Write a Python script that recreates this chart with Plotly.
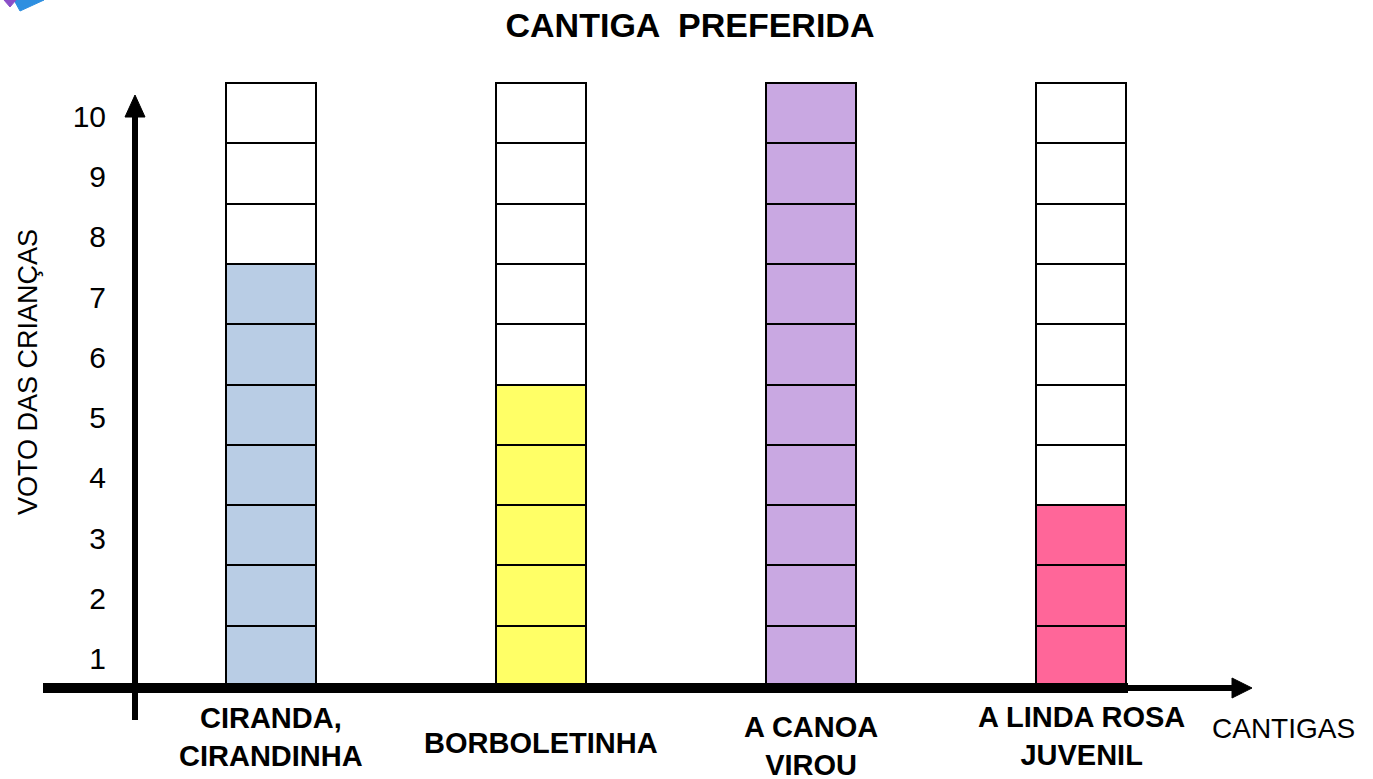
import plotly.graph_objects as go

# ---- data ----
categories = ["CIRANDA, CIRANDINHA", "BORBOLETINHA", "A CANOA VIROU", "A LINDA ROSA JUVENIL"]
category_labels = ["CIRANDA,<br>CIRANDINHA", "BORBOLETINHA", "A CANOA<br>VIROU", "A LINDA ROSA<br>JUVENIL"]
votes = [7, 5, 10, 3]
y_tick_labels = ["1", "2", "3", "4", "5", "6", "7", "8", "9", "10"]
max_votes = 10

# ---- styles ----
colors = ["#B9CDE5", "#FFFF66", "#C9A8E2", "#FF6699"]
label_y_px = [737, 743, 746, 736]  # vertical centre of each category label (pixels)

W, H = 1373, 779
L, R, T, B = 135, 113, 60, 79
PW, PH = W - L - R, H - T - B


def xp(px):
    return (px - L) / PW


def yp(py):
    return (H - B - py) / PH


# data ranges so that category i sits at 271 + 270*i px and y unit = 60.3 px with 0 at 686 px
x0_px, dx_px = 271, 270
y0_px, dy_px = 686, 60.3
x_range = [(L - x0_px) / dx_px, (W - R - x0_px) / dx_px]
y_range = [(y0_px - (H - B)) / dy_px, (y0_px - T) / dy_px]

fig = go.Figure()
for k in range(max_votes):
    fig.add_trace(go.Bar(
        x=list(range(len(categories))),
        y=[1] * len(categories),
        base=[k] * len(categories),
        width=1 / 3,
        marker=dict(
            color=[c if k < v else "white" for c, v in zip(colors, votes)],
            line=dict(color="black", width=2),
        ),
        customdata=categories,
        hovertemplate="%{customdata}<extra></extra>",
        showlegend=False,
    ))

shapes = [
    # y axis
    dict(type="line", xref="paper", yref="paper", x0=xp(135), x1=xp(135), y0=yp(720), y1=yp(112),
         line=dict(color="black", width=6)),
    dict(type="path", xref="paper", yref="paper",
         path=f"M {xp(125)} {yp(117)} L {xp(145)} {yp(117)} L {xp(135)} {yp(95)} Z",
         fillcolor="black", line=dict(color="black", width=1)),
    # x axis
    dict(type="line", xref="paper", yref="paper", x0=xp(43), x1=xp(1128), y0=yp(688), y1=yp(688),
         line=dict(color="black", width=10)),
    dict(type="line", xref="paper", yref="paper", x0=xp(1128), x1=xp(1236), y0=yp(688), y1=yp(688),
         line=dict(color="black", width=6)),
    dict(type="path", xref="paper", yref="paper",
         path=f"M {xp(1232)} {yp(678)} L {xp(1232)} {yp(698)} L {xp(1252)} {yp(688)} Z",
         fillcolor="black", line=dict(color="black", width=1)),
    # decorative corner arrow
    dict(type="path", xref="paper", yref="paper",
         path=f"M {xp(14)} {yp(0)} L {xp(44)} {yp(0)} L {xp(20)} {yp(11)} Z",
         fillcolor="#2E8FE0", line=dict(color="#2E8FE0", width=1)),
    dict(type="path", xref="paper", yref="paper",
         path=f"M {xp(4)} {yp(0)} L {xp(16)} {yp(0)} L {xp(10)} {yp(7)} Z",
         fillcolor="#8A4FC8", line=dict(color="#8A4FC8", width=1)),
]

annotations = []
for i, (lab, ypx) in enumerate(zip(category_labels, label_y_px)):
    annotations.append(dict(
        x=i, xref="x", y=yp(ypx), yref="paper", text=f"<b>{lab}</b>", showarrow=False,
        xanchor="center", yanchor="middle", align="center",
        font=dict(family="Liberation Sans, Arial", size=29, color="black"),
    ))
annotations.append(dict(
    x=xp(1283), xref="paper", y=yp(728), yref="paper", text="CANTIGAS", showarrow=False,
    xanchor="center", yanchor="middle",
    font=dict(family="Liberation Sans, Arial", size=28, color="black"),
))
annotations.append(dict(
    x=xp(28), xref="paper", y=yp(372), yref="paper", text="VOTO DAS CRIANÇAS", showarrow=False,
    xanchor="center", yanchor="middle", textangle=-90,
    font=dict(family="Liberation Sans, Arial", size=27, color="black"),
))

fig.update_layout(
    width=W, height=H,
    margin=dict(l=L, r=R, t=T, b=B),
    paper_bgcolor="white", plot_bgcolor="white",
    barmode="overlay",
    bargap=0,
    title=dict(text="<b>CANTIGA  PREFERIDA</b>", x=690 / W, xanchor="center", y=1 - 25 / H, yanchor="middle",
               font=dict(family="Liberation Sans, Arial", size=34, color="black")),
    xaxis=dict(range=x_range, showgrid=False, zeroline=False, showticklabels=False, showline=False,
               fixedrange=True),
    yaxis=dict(range=y_range, showgrid=False, zeroline=False, showline=False,
               tickmode="array", tickvals=[k + 0.45 for k in range(max_votes)], ticktext=y_tick_labels,
               ticks="", ticklabelstandoff=28,
               tickfont=dict(family="Liberation Sans, Arial", size=30, color="black"), fixedrange=True),
    shapes=shapes,
    annotations=annotations,
)

fig.write_html("out.html", post_script="document.body.style.margin='0';",
               config={"displayModeBar": False})
